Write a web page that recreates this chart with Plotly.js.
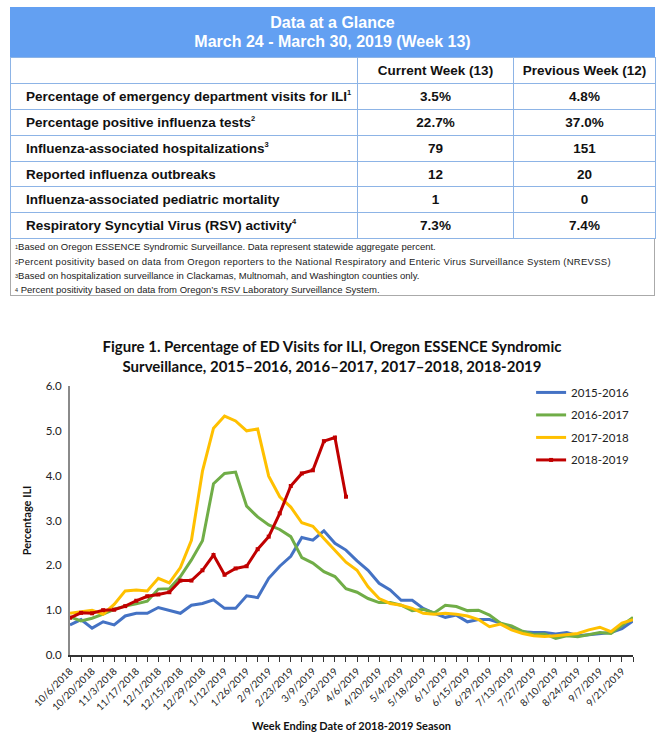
<!DOCTYPE html>
<html>
<head>
<meta charset="utf-8">
<script src="https://cdn.plot.ly/plotly-3.0.1.min.js"></script>
<style>
  html, body { margin:0; padding:0; background:#fff; width:664px; height:742px; overflow:hidden; }
  #chart { position:absolute; left:0; top:0; width:664px; height:742px; }
  #tbl { position:absolute; left:10px; top:7px; width:645px; z-index:5;
         font-family:"Liberation Sans",Arial,sans-serif; }
  #hdr { background:#63a0f2; color:#fff; font-weight:bold; font-size:16px; line-height:19px;
         text-align:center; height:50px; box-sizing:border-box; padding-top:6px; }
  table { border-collapse:collapse; width:645px; table-layout:fixed; }
  tr { height:25.9px; }
  td { border:1px solid #8db4e6; padding:0; font-weight:bold; font-size:13.5px; color:#111; white-space:nowrap; }
  td.lab { padding-left:15px; }
  td.val { text-align:center; }
  sup { font-size:7.5px; vertical-align:top; position:relative; top:-1px; }
  #notes { border:1px solid #aaa; border-top:none; height:57px; box-sizing:border-box;
           font-size:9.5px; color:#222; padding:1px 0 0 4px; line-height:14.3px; white-space:nowrap; }
  #notes div { height:14.3px; }
  #notes div:nth-child(2) { letter-spacing:0.27px; }
  #notes sup { font-size:5.5px; top:0px; letter-spacing:0; }
</style>
</head>
<body>
<div id="chart"></div>
<div id="tbl"></div>
<script>
// ---- table data ----
const tableTitle = ["Data at a Glance", "March 24 - March 30, 2019 (Week 13)"];
const colHeads = ["", "Current Week (13)", "Previous Week (12)"];
const rowLabels = ["Percentage of emergency department visits for ILI",
  "Percentage positive influenza tests", "Influenza-associated hospitalizations",
  "Reported influenza outbreaks", "Influenza-associated pediatric mortality",
  "Respiratory Syncytial Virus (RSV) activity"];
const rowNotes = ["1", "2", "3", "", "", "4"];
const currentWeek = ["3.5%", "22.7%", "79", "12", "1", "7.3%"];
const previousWeek = ["4.8%", "37.0%", "151", "20", "0", "7.4%"];
const footnotes = [
  ["1", "Based on Oregon ESSENCE Syndromic Surveillance. Data represent statewide aggregate percent."],
  ["2", "Percent positivity based on data from Oregon reporters to the National Respiratory and Enteric Virus Surveillance System (NREVSS)"],
  ["3", "Based on hospitalization surveillance in Clackamas, Multnomah, and Washington counties only."],
  ["4", " Percent positivity based on data from Oregon’s RSV Laboratory Surveillance System."]
];

// ---- chart data ----
const weeks = ["2018-10-06","2018-10-13","2018-10-20","2018-10-27","2018-11-03","2018-11-10","2018-11-17","2018-11-24",
  "2018-12-01","2018-12-08","2018-12-15","2018-12-22","2018-12-29","2019-01-05","2019-01-12","2019-01-19","2019-01-26",
  "2019-02-02","2019-02-09","2019-02-16","2019-02-23","2019-03-02","2019-03-09","2019-03-16","2019-03-23","2019-03-30",
  "2019-04-06","2019-04-13","2019-04-20","2019-04-27","2019-05-04","2019-05-11","2019-05-18","2019-05-25","2019-06-01",
  "2019-06-08","2019-06-15","2019-06-22","2019-06-29","2019-07-06","2019-07-13","2019-07-20","2019-07-27","2019-08-03",
  "2019-08-10","2019-08-17","2019-08-24","2019-08-31","2019-09-07","2019-09-14","2019-09-21","2019-09-28"];
const seasonNames = ["2015-2016", "2016-2017", "2017-2018", "2018-2019"];
const s2015 = [0.67,0.79,0.6,0.74,0.67,0.87,0.93,0.93,1.06,0.99,0.93,1.11,1.15,1.23,1.04,1.04,1.32,1.28,1.71,1.98,2.2,2.62,2.56,2.77,2.49,2.34,2.1,
  1.89,1.6,1.45,1.22,1.22,1.04,0.93,0.84,0.89,0.74,0.79,0.79,0.71,0.59,0.52,0.5,0.5,0.47,0.5,0.43,0.45,0.48,0.5,0.59,0.76];
const s2016 = [0.85,0.76,0.82,0.91,1.02,1.09,1.14,1.2,1.47,1.48,1.75,2.12,2.55,3.82,4.05,4.08,3.32,3.08,2.9,2.8,2.64,2.17,2.05,1.86,1.75,1.48,1.4,
  1.26,1.17,1.17,1.11,0.99,1.02,0.94,1.11,1.08,0.99,1.0,0.89,0.71,0.65,0.53,0.46,0.47,0.37,0.43,0.41,0.46,0.5,0.48,0.67,0.84];
const s2017 = [0.93,0.97,1.0,0.91,1.13,1.43,1.45,1.43,1.71,1.61,1.95,2.56,4.1,5.06,5.33,5.22,5.0,5.04,3.99,3.53,3.3,2.95,2.87,2.6,2.34,2.07,1.89,
  1.52,1.26,1.15,1.11,1.04,0.93,0.91,0.93,0.91,0.87,0.79,0.63,0.69,0.56,0.48,0.43,0.41,0.43,0.45,0.48,0.56,0.62,0.52,0.71,0.79];
const s2018 = [0.83,0.94,0.93,1.0,1.01,1.09,1.21,1.31,1.35,1.4,1.66,1.66,1.89,2.23,1.79,1.93,1.98,2.36,2.64,3.16,3.77,4.05,4.12,4.77,4.85,3.53];
const seasonColors = ["#4472C4", "#70AD47", "#FFC000", "#C00000"];

// ---- build table ----
let h = '<div id="hdr">' + tableTitle.join('<br>') + '</div><table><colgroup><col style="width:347px"><col style="width:156px"><col style="width:142px"></colgroup>';
h += '<tr>' + colHeads.map((c, i) => '<td class="' + (i ? 'val' : 'lab') + '">' + c + '</td>').join('') + '</tr>';
rowLabels.forEach((r, i) => {
  h += '<tr><td class="lab">' + r + (rowNotes[i] ? '<sup>' + rowNotes[i] + '</sup>' : '') + '</td><td class="val">' +
       currentWeek[i] + '</td><td class="val">' + previousWeek[i] + '</td></tr>';
});
h += '</table><div id="notes">' + footnotes.map(f => '<div><sup>' + f[0] + '</sup>' + f[1] + '</div>').join('') + '</div>';
document.getElementById('tbl').innerHTML = h;

// ---- chart ----
const series = [s2015, s2016, s2017, s2018];
const traces = series.map((s, k) => ({
  type: 'scatter',
  x: weeks.slice(0, s.length),
  y: s,
  name: seasonNames[k],
  legendgroup: 'g' + k,
  mode: k === 3 ? 'lines+markers' : 'lines',
  line: { color: seasonColors[k], width: 3 },
  marker: { color: seasonColors[k], size: 4, symbol: 'square' }
}));

const font = "Lato, Calibri, 'Open Sans', sans-serif";
const layout = {
  width: 664, height: 742,
  margin: { l: 70, r: 31, t: 386, b: 87 },
  paper_bgcolor: '#fff', plot_bgcolor: '#fff',
  font: { family: font, color: '#222', size: 11 },
  title: {
    text: 'Figure 1. Percentage of ED Visits for ILI, Oregon ESSENCE Syndromic<br>Surveillance, 2015–2016, 2016–2017, 2017–2018, 2018-2019',
    font: { family: font, size: 15, color: '#111', weight: 'bold' },
    x: 0.5, xanchor: 'center', yref: 'container', y: 1 - 352 / 742, yanchor: 'middle'
  },
  showlegend: true,
  legend: {
    x: 0.819, xanchor: 'left', y: 1.03, yanchor: 'top',
    font: { family: font, size: 11.5, color: '#222' },
    bgcolor: 'rgba(0,0,0,0)', traceorder: 'grouped', tracegroupgap: 3.5, itemwidth: 30
  },
  xaxis: {
    type: 'date',
    range: [weeks[0], weeks[weeks.length - 1]],
    tick0: weeks[0], dtick: 14 * 86400000,
    tickformat: '%-m/%-d/%Y', tickangle: -45,
    ticks: 'outside', ticklen: 5, tickwidth: 1, tickcolor: '#333',
    minor: { dtick: 7 * 86400000, tick0: weeks[0], ticks: 'outside', ticklen: 5, tickwidth: 1, tickcolor: '#333', showgrid: false },
    showline: true, linecolor: '#333', linewidth: 1.5,
    showgrid: false, zeroline: false,
    tickfont: { family: font, size: 10, color: '#222' },
    title: { text: 'Week Ending Date of 2018-2019 Season', font: { family: font, size: 11, weight: 'bold', color: '#111' }, standoff: 10 }
  },
  yaxis: {
    range: [0, 6], dtick: 1, tickformat: '.1f',
    showline: true, linecolor: '#8a8a8a', linewidth: 2,
    ticks: '', showgrid: false, zeroline: false, ticklabelstandoff: 4,
    tickfont: { family: font, size: 11.5, color: '#222' },
    title: { text: 'Percentage ILI', font: { family: font, size: 11, weight: 'bold', color: '#111' }, standoff: 12 }
  }
};
Plotly.newPlot('chart', traces, layout, { displayModeBar: false, staticPlot: true });
</script>
</body>
</html>
